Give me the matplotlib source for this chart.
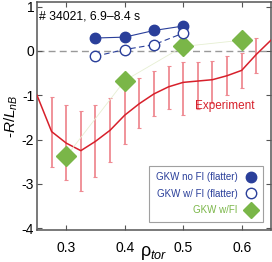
import numpy as np
import matplotlib
matplotlib.use("Agg")
import matplotlib.pyplot as plt

plt.rcParams['font.family'] = ['Liberation Sans', 'DejaVu Sans']
plt.rcParams['mathtext.fontset'] = 'custom'
plt.rcParams['mathtext.rm'] = 'Liberation Sans'
plt.rcParams['mathtext.it'] = 'Liberation Sans:italic'

# experiment profile
rho_exp = [0.25, 0.275, 0.3, 0.325, 0.35, 0.375, 0.4, 0.425, 0.45, 0.475,
           0.5, 0.525, 0.55, 0.575, 0.6, 0.625, 0.65]
val_exp = [-1.0, -1.82, -2.08, -2.25, -2.04, -1.79, -1.45, -1.19, -0.97, -0.81,
           -0.71, -0.68, -0.65, -0.56, -0.44, -0.08, 0.24]
err_lo = [0.0, 0.79, 0.83, 0.91, 0.80, 0.72, 0.65, 0.56, 0.50, 0.49,
          0.73, 0.64, 0.52, 0.43, 0.40, 0.42, 0.0]
err_hi = [0.0, 0.79, 0.85, 0.89, 0.81, 0.72, 0.65, 0.57, 0.52, 0.48,
          0.46, 0.43, 0.42, 0.44, 0.40, 0.37, 0.0]

# GKW runs
rho_noFI = [0.35, 0.4, 0.45, 0.5]
val_noFI = [0.29, 0.31, 0.46, 0.56]
rho_wFI_flat = [0.35, 0.4, 0.45, 0.5]
val_wFI_flat = [-0.12, 0.03, 0.14, 0.40]
rho_wFI = [0.3, 0.4, 0.5, 0.6]
val_wFI = [-2.38, -0.67, 0.10, 0.24]

red = '#d7202b'
blue = '#2a3f9a'
green = '#7ab648'

fig = plt.figure(figsize=(2.72, 2.62), dpi=100)
ax = fig.add_axes([0.136, 0.122, 0.86, 0.870])

ax.axhline(0, color='#999999', ls='--', lw=1.0, dashes=(5, 3), zorder=1)

# error bars (skip the edge points)
ax.errorbar(rho_exp[1:-1], val_exp[1:-1], yerr=[err_lo[1:-1], err_hi[1:-1]],
            fmt='none', ecolor='#ef8a92', elinewidth=1.3, capsize=1.5,
            capthick=0.8, zorder=2)
ax.plot(rho_exp, val_exp, color=red, lw=1.1, zorder=3)

ax.plot(rho_wFI, val_wFI, color='#e6efd2', lw=0.6, zorder=3)
ax.plot(rho_wFI, val_wFI, 'D', color=green, ms=10, mec=green, zorder=5,
        label='GKW w/FI')

ax.plot(rho_noFI, val_noFI, '-', color=blue, lw=0.8, zorder=4)
ax.plot(rho_noFI, val_noFI, 'o', color=blue, ms=7.5, zorder=5,
        label='GKW no FI (flatter)')
ax.plot(rho_wFI_flat, val_wFI_flat, '--', color=blue, lw=0.8, dashes=(5, 3),
        zorder=4)
ax.plot(rho_wFI_flat, val_wFI_flat, 'o', mfc='white', mec=blue, mew=1.0,
        ms=7.5, zorder=5, label='GKW w/ FI (flatter)')

ax.text(0.2535, 0.78, '# 34021, 6.9\u20138.4 s', fontsize=8.8, va='center')
ax.text(0.52, -1.24, 'Experiment', color=red, fontsize=8.5, va='center')

ax.set_xlim(0.25, 0.65)
ax.set_ylim(-4.04, 1.1)
ax.set_xticks([0.3, 0.4, 0.5, 0.6])
ax.set_yticks([-4, -3, -2, -1, 0, 1])
ax.set_yticklabels(['-4', '-3', '-2', '-1', '0', '1'])
ax.tick_params(direction='in', top=True, right=True, length=3.5, width=0.8,
               color='#555555', labelsize=10)
ax.tick_params(axis='x', pad=8)
ax.tick_params(axis='y', pad=2)
for s in ax.spines.values():
    s.set_color('#555555')
    s.set_linewidth(1.1)

ax.set_ylabel(r'-$R/L_{nB}$', fontsize=11, labelpad=1)
ax.set_xlabel('\u03c1' + r'$_{tor}$', fontsize=13, labelpad=-8)

h, l = ax.get_legend_handles_labels()
order = [1, 2, 0]
leg = ax.legend([h[i] for i in order], [l[i] for i in order], loc='lower right',
                markerfirst=False, fontsize=7, frameon=True, fancybox=False,
                edgecolor='#888888', handlelength=1.0, borderpad=0.7,
                labelspacing=0.65, bbox_to_anchor=(0.985, 0.015),
                handletextpad=0.9)
leg.get_frame().set_linewidth(0.8)
cols = [blue, blue, green]
for t, c in zip(leg.get_texts(), cols):
    t.set_color(c)
for lh in leg.legend_handles:
    lh.set_markersize(7.5)
leg.legend_handles[2].set_markersize(8)

fig.savefig('out.png', dpi=100)
